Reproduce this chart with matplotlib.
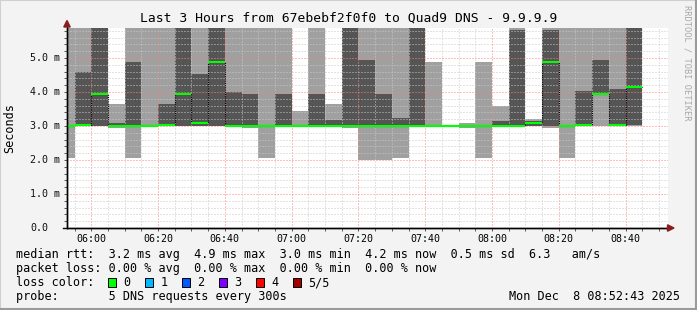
import matplotlib
matplotlib.use('Agg')
import matplotlib.pyplot as plt
from matplotlib.patches import Polygon, Rectangle
from matplotlib.transforms import blended_transform_factory

# Each column is one 5-minute probe round, labelled by its end time
ends = ['05:55', '06:00', '06:05', '06:10', '06:15', '06:20', '06:25', '06:30', '06:35',
        '06:40', '06:45', '06:50', '06:55', '07:00', '07:05', '07:10', '07:15', '07:20',
        '07:25', '07:30', '07:35', '07:40', '07:45', '07:50', '07:55', '08:00', '08:05',
        '08:10', '08:15', '08:20', '08:25', '08:30', '08:35', '08:40', '08:45']

# sorted pings per round (ms); values above the top of the graph are clipped
ping_min = [2.05, 3.0, 3.0, 2.95, 2.05, 3.0, 3.0, 3.0, 3.0, 3.0, 3.0, 2.95, 2.05, 3.0, 3.0, 3.0,
            3.0, 2.95, 2.0, 2.0, 2.05, 3.0, 3.0, 3.0, 2.94, 2.05, 3.0, 3.0, 3.0, 2.94, 2.05,
            3.0, 3.0, 3.0, 3.0]
ping_lo = [3.0, 3.0, 3.0, 2.96, 3.0, 3.0, 3.0, 3.0, 3.0, 3.0, 3.0, 2.96, 3.0, 3.0, 3.0, 3.0,
           3.0, 2.96, 3.0, 3.0, 3.0, 3.0, 3.0, 3.0, 3.0, 3.0, 3.0, 3.0, 3.0, 3.0, 3.0,
           3.0, 3.95, 3.0, 3.02]
ping_med = [3.0, 3.04, 3.95, 3.0, 3.0, 3.0, 3.04, 3.95, 3.1, 4.88, 3.0, 3.0, 3.0, 3.0, 3.0, 3.0,
            3.0, 3.0, 3.0, 3.0, 3.0, 3.0, 3.0, 3.0, 3.0, 3.0, 3.0, 3.0, 3.1, 4.88, 3.0,
            3.04, 3.95, 3.04, 4.15]
ping_hi = [3.0, 4.6, 6.5, 3.1, 4.88, 3.0, 3.65, 6.5, 4.53, 6.5, 4.0, 3.95, 3.0, 3.95, 3.0, 3.95,
           3.18, 6.5, 4.94, 3.95, 3.24, 6.5, 3.0, 3.0, 3.0, 3.0, 3.15, 5.82, 3.15, 5.82, 3.0,
           4.03, 4.94, 4.09, 6.5]
ping_max = [6.5, 6.5, 6.5, 3.65, 6.5, 6.5, 6.5, 6.5, 6.5, 6.5, 6.5, 6.5, 6.5, 6.5, 3.45, 6.5,
            3.65, 6.5, 6.5, 6.5, 6.5, 6.5, 4.88, 3.0, 3.08, 4.88, 3.59, 6.5, 3.2, 6.5, 6.5,
            6.5, 6.5, 6.5, 6.5]

y_ticks = [0, 1, 2, 3, 4, 5]
y_labels = ['0.0', '1.0 m', '2.0 m', '3.0 m', '4.0 m', '5.0 m']
x_ticks = ['06:00', '06:20', '06:40', '07:00', '07:20', '07:40', '08:00', '08:20', '08:40']

title = 'Last 3 Hours from 67ebebf2f0f0 to Quad9 DNS - 9.9.9.9'
legend_lines = [
    'median rtt:  3.2 ms avg  4.9 ms max  3.0 ms min  4.2 ms now  0.5 ms sd  6.3   am/s',
    'packet loss: 0.00 % avg  0.00 % max  0.00 % min  0.00 % now',
    'loss color:',
    'probe:       5 DNS requests every 300s',
]
loss_labels = ['0', '1', '2', '3', '4', '5/5']
loss_colors = ['#00ff00', '#00b8ff', '#0059ff', '#7e00ff', '#ff0000', '#a00000']
stamp = 'Mon Dec  8 08:52:43 2025'


def minutes(s):
    h, m = s.split(':')
    return int(h) * 60 + int(m)


W, H = 697, 310
mono = 'DejaVu Sans Mono'
plt.rcParams['font.family'] = mono

fig = plt.figure(figsize=(W / 100, H / 100), dpi=100)
fig.patch.set_facecolor('#f3f3f3')

def fx(px):
    return px / W

def fy(py):
    return 1 - py / H

ax = fig.add_axes([fx(67), fy(228), 601 / W, 200 / H])
ax.set_facecolor('white')

t_end = [minutes(t) for t in ends]
t_start = [t - 5 for t in t_end]

# smoke: outer pings light, inner pings dark
ax.bar(t_start, [b - a for a, b in zip(ping_min, ping_max)], bottom=ping_min, width=5,
       align='edge', color='#a0a0a0', linewidth=0, zorder=1)
ax.bar(t_start, [b - a for a, b in zip(ping_lo, ping_hi)], bottom=ping_lo, width=5,
       align='edge', color='#555555', linewidth=0, zorder=1.1)

# median line: dotted risers, green treads
ax.plot(t_start + [t_end[-1]], ping_med + [ping_med[-1]], drawstyle='steps-post',
        color='black', lw=0.8, ls=(0, (1, 1)), zorder=2.8)
ax.hlines(ping_med, t_start, t_end, color='#00ff00', lw=1.5, zorder=3)

x0 = minutes('05:52') + 43 / 60
ax.set_xlim(x0, x0 + 180)
ax.set_ylim(0, 200 / 34)

# grid on top of the smoke, like rrdtool
major_x = [minutes(t) for t in x_ticks]
minor_x = list(range(355, 535, 5))
ax.set_xticks(major_x)
ax.set_xticks(minor_x, minor=True)
ax.set_yticks(y_ticks)
ax.set_yticks([i * 0.2 for i in range(30)], minor=True)
ax.set_axisbelow(False)
ax.grid(which='minor', color='#c8c8c8', lw=0.72, ls=(0, (1, 2)))
ax.grid(which='major', color='#ff8080', lw=0.72, ls=(0, (1, 2)))
for gl in ax.get_xgridlines() + ax.get_ygridlines():
    gl.set_zorder(2.5)

ax.set_xticklabels(x_ticks, fontsize=7.2)
ax.set_yticklabels([])
ax.tick_params(axis='both', which='both', direction='out', length=2, width=0.7,
               color='#555555', pad=3)
ax.tick_params(axis='x', which='major', pad=2)

for s in ['top', 'right']:
    ax.spines[s].set_visible(False)
for s in ['left', 'bottom']:
    ax.spines[s].set_color('black')
    ax.spines[s].set_linewidth(1)

trans = blended_transform_factory(fig.transFigure, ax.transData)
for v, lab in zip(y_ticks, y_labels):
    ax.text(fx(30), v, lab, transform=trans, ha='left', va='center', fontsize=7.2, color='#111111')

# axis arrows
fig.patches.append(Polygon([(fx(67), fy(20.5)), (fx(63.8), fy(27)), (fx(70.2), fy(27))],
                           closed=True, transform=fig.transFigure, color='#8b1c1c', zorder=5))
fig.patches.append(Polygon([(fx(674), fy(228)), (fx(667.5), fy(224.8)), (fx(667.5), fy(231.2))],
                           closed=True, transform=fig.transFigure, color='#8b1c1c', zorder=5))
fig.lines.append(plt.Line2D([fx(67), fx(67)], [fy(228), fy(26)], transform=fig.transFigure,
                            color='black', lw=1))
fig.lines.append(plt.Line2D([fx(63), fx(668)], [fy(228), fy(228)], transform=fig.transFigure,
                            color='black', lw=1))

fig.text(fx(348.5), fy(18.5), title, ha='center', va='center', fontsize=9.4, color='black')
fig.text(fx(10), fy(128), 'Seconds', rotation=90, ha='center', va='center', fontsize=8.5)
fig.text(fx(686.5), fy(5), 'RRDTOOL / TOBI OETIKER', rotation=270, ha='center', va='top',
         fontsize=6.2, color='#a8a8a8')

# legend block
rows_y = [254.5, 268.5, 282.5, 296.5]
for line, yy in zip(legend_lines, rows_y):
    fig.text(fx(16), fy(yy), line, ha='left', va='center', fontsize=8.5, color='black')
for i, (lab, col) in enumerate(zip(loss_labels, loss_colors)):
    xs = 108 + 37 * i
    fig.patches.append(Rectangle((fx(xs), fy(rows_y[2] + 4.5)), 8 / W, 9 / H,
                                 transform=fig.transFigure, facecolor=col,
                                 edgecolor='black', lw=0.7))
    fig.text(fx(xs + 15.5), fy(rows_y[2]), lab, ha='left', va='center', fontsize=8.5)
fig.text(fx(680), fy(rows_y[3]), stamp, ha='right', va='center', fontsize=8.5)

# 3D-ish frame
fig.patches.append(Rectangle((0, 0), 1, 1, transform=fig.transFigure, fill=False,
                             edgecolor='#cfcfcf', lw=1.5))
fig.lines.append(plt.Line2D([fx(696), fx(696)], [0, 1], transform=fig.transFigure,
                            color='#9a9a9a', lw=1.5))
fig.lines.append(plt.Line2D([0, 1], [fy(309), fy(309)], transform=fig.transFigure,
                            color='#9a9a9a', lw=1.5))

fig.savefig('out.png', dpi=100, facecolor=fig.get_facecolor())
